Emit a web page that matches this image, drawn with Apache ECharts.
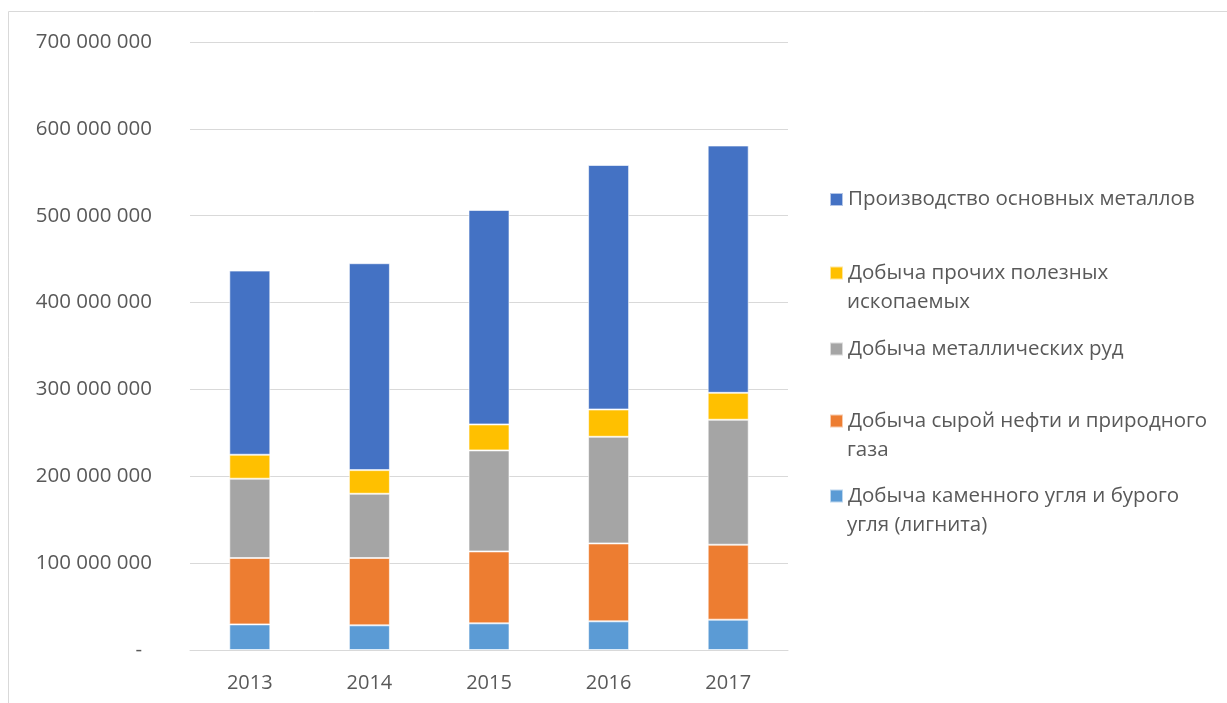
<!DOCTYPE html>
<html>
<head>
    <meta charset="utf-8" />
    <script src="https://cdn.jsdelivr.net/npm/echarts@6.0.0/dist/echarts.min.js"></script>
    <style>
        body { margin: 0px; overflow: hidden; background: #fff; }
        #main { width: 1227px; height: 703px; }
    </style>
</head>
<body>
    <div id="main"></div>
<script type="text/javascript">
    // years on the x axis
    var years = ['2013', '2014', '2015', '2016', '2017'];
    // stacked series, bottom to top
    var coal = [29.5e6, 28.4e6, 30.7e6, 33.0e6, 34.9e6];      // каменный уголь и лигнит
    var oilGas = [76.4e6, 77.5e6, 82.8e6, 89.7e6, 86.3e6];    // нефть и газ
    var metalOres = [91.3e6, 74.0e6, 116.3e6, 122.8e6, 143.9e6]; // металлические руды
    var otherMinerals = [27.6e6, 27.2e6, 29.9e6, 31.4e6, 31.0e6]; // прочие полезные ископаемые
    var baseMetals = [212.0e6, 238.2e6, 246.9e6, 281.5e6, 284.7e6]; // основные металлы
    var yTicks = [0, 100e6, 200e6, 300e6, 400e6, 500e6, 600e6, 700e6];

    var names = [
        'Добыча каменного угля и бурого угля (лигнита)',
        'Добыча сырой нефти и природного газа',
        'Добыча металлических руд',
        'Добыча прочих полезных ископаемых',
        'Производство основных металлов'
    ];
    // how the legend text wraps: first line, second line
    var legendLines = [
        ['Добыча каменного угля и бурого', 'угля (лигнита)'],
        ['Добыча сырой нефти и природного', 'газа'],
        ['Добыча металлических руд', ''],
        ['Добыча прочих полезных', 'ископаемых'],
        ['Производство основных металлов', '']
    ];

    var colors = ['#5B9BD5', '#ED7D31', '#A5A5A5', '#FFC000', '#4472C4'];
    var seriesData = [coal, oilGas, metalOres, otherMinerals, baseMetals];

    var font = '"Open Sans", "Noto Sans", sans-serif';
    var textColor = '#595959';
    var legendFontSize = 20.5;

    function fmt(v) {
        if (v === 0) return '{d|-}';
        return String(Math.round(v)).replace(/\B(?=(\d{3})+(?!\d))/g, ' ');
    }

    // one legend block per item, so the spacing matches the picture
    var iconCenters = [496, 421, 349, 273, 199.5];
    var legends = names.map(function (n, i) {
        return {
            data: [n],
            orient: 'vertical',
            left: 829,
            top: iconCenters[i] - 14.5,
            padding: 0,
            itemWidth: 13,
            itemHeight: 13,
            icon: 'rect',
            formatter: function () { return legendLines[i][0]; },
            textStyle: {
                color: textColor,
                fontFamily: font,
                fontSize: legendFontSize,
                lineHeight: 29
            }
        };
    });

    // wrapped second lines of the legend text
    var graphics = [{
        type: 'rect',
        shape: { x: 8.5, y: 11.5, width: 1400, height: 900 },
        style: { fill: 'none', stroke: '#d9d9d9', lineWidth: 1 },
        silent: true
    }];
    legendLines.forEach(function (l, i) {
        if (!l[1]) return;
        graphics.push({
            type: 'text',
            left: 847,
            top: iconCenters[i] + 29 - 14.5,
            silent: true,
            style: {
                text: l[1],
                fill: textColor,
                font: legendFontSize + 'px ' + font,
                lineHeight: 29,
                verticalAlign: 'top'
            }
        });
    });

    var chart = echarts.init(document.getElementById('main'));
    var option = {
        animation: false,
        color: colors,
        legend: legends,
        graphic: graphics,
        grid: { left: 190, right: 439, top: 42, bottom: 53 },
        xAxis: {
            type: 'category',
            data: years,
            axisLine: { lineStyle: { color: '#d9d9d9', width: 1 } },
            axisTick: { show: false },
            axisLabel: { color: textColor, fontFamily: font, fontSize: 20, margin: 23 }
        },
        yAxis: {
            type: 'value',
            min: yTicks[0],
            max: yTicks[yTicks.length - 1],
            interval: yTicks[1] - yTicks[0],
            axisLine: { show: false },
            axisTick: { show: false },
            splitLine: { lineStyle: { color: '#d9d9d9', width: 1 } },
            axisLabel: {
                color: textColor, fontFamily: font, fontSize: 20.5, margin: 38,
                formatter: fmt,
                rich: { d: { color: textColor, fontFamily: font, fontSize: 20.5, padding: [0, 10, 0, 0] } }
            }
        },
        series: names.map(function (n, i) {
            return {
                name: n,
                type: 'bar',
                stack: 'total',
                barWidth: 41,
                data: seriesData[i],
                itemStyle: { color: colors[i], borderColor: 'rgba(255,255,255,0.6)', borderWidth: 1 }
            };
        })
    };
    chart.setOption(option);
</script>
</body>
</html>
